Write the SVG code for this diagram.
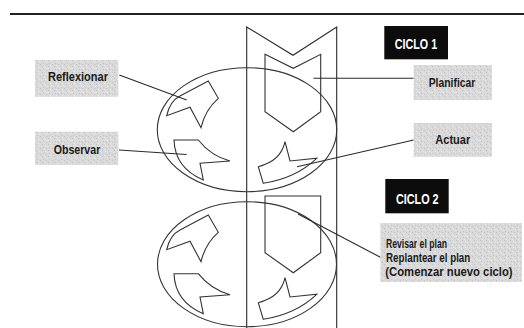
<svg xmlns="http://www.w3.org/2000/svg" width="524" height="328" viewBox="0 0 524 328">
<defs>
<pattern id="grain" width="6" height="6" patternUnits="userSpaceOnUse">
<rect width="6" height="6" fill="#d9d9d9"/>
<rect x="0" y="0" width="1" height="1" fill="#c0c0c0"/>
<rect x="3" y="1" width="1" height="1" fill="#e8e8e8"/>
<rect x="1" y="3" width="1" height="1" fill="#c6c6c6"/>
<rect x="4" y="4" width="1" height="1" fill="#c3c3c3"/>
<rect x="5" y="2" width="1" height="1" fill="#e6e6e6"/>
<rect x="2" y="5" width="1" height="1" fill="#e8e8e8"/>
</pattern>
<style>
.ln{fill:none;stroke:#2a2a2a;stroke-width:1.1;stroke-linejoin:miter}
.sh{fill:none;stroke:#333;stroke-width:1.1;stroke-linejoin:miter}
.lbl{fill:url(#grain)}
.blk{fill:#0c0c0c}
.t{font-family:"Liberation Sans",Arial,sans-serif;font-weight:bold;font-size:13.5px;fill:#1a1a1a}
.ts{font-family:"Liberation Sans",Arial,sans-serif;font-weight:bold;font-size:12px;fill:#1a1a1a}
.tw{font-family:"Liberation Sans",Arial,sans-serif;font-weight:bold;font-size:14px;fill:#ffffff}
</style>
</defs>
<rect width="524" height="328" fill="#ffffff"/>
<line x1="10" y1="14" x2="524" y2="14" stroke="#222" stroke-width="2"/>

<g id="column">
<path class="ln" d="M246.7,328 L246.7,27 L293,55.3 L336.7,27 L336.7,328"/>
</g>

<g id="ellipse1">
<ellipse class="sh" cx="247" cy="129.7" rx="89.7" ry="62"/>
</g>
<g id="ellipse2">
<ellipse class="sh" cx="247" cy="264.2" rx="89.5" ry="62.5"/>
</g>

<g id="reflexionar-shape-1">
<path class="sh" d="M166.7,115.7 Q170,101 180,96 L208.3,81 L218.3,98.3 Q205,110 201,127.7 L190,107.3 Z"/>
</g>
<g id="observar-shape-1">
<path class="sh" d="M174,140 L198.3,140 Q211,156 230,161 L200,163.3 L203.3,180 Q175,168 174,140 Z"/>
</g>
<g id="planificar-shape-1">
<path class="sh" d="M265,54.3 L293.3,68.3 L320.7,54.3 L320.7,111.7 L293.3,131.7 L265,111.7 Z"/>
</g>
<g id="actuar-shape-1">
<path class="sh" d="M258.3,166.7 Q281,161 285,141.7 L290,161 L316.7,158.3 Q296,178 263.3,183.3 Z"/>
</g>

<g id="reflexionar-shape-2">
<path class="sh" d="M166.7,249.7 Q170,235 180,230 L208.3,215 L218.3,232.3 Q205,244 201,261.7 L190,241.3 Z"/>
</g>
<g id="observar-shape-2">
<path class="sh" d="M174,273.7 L198.3,273.7 Q211,289.7 230,294.7 L200,297 L203.3,313.7 Q175,301.7 174,273.7 Z"/>
</g>
<g id="planificar-shape-2">
<path class="sh" d="M265,196 L320.7,196 L320.7,252.7 L293.3,272.7 L265,252.7 Z"/>
</g>
<g id="actuar-shape-2">
<path class="sh" d="M258.3,302.7 Q281,297 285,277.7 L290,297 L316.7,294.3 Q296,314 263.3,319.3 Z"/>
</g>

<g id="connectors">
<line class="ln" x1="119.3" y1="75" x2="186.7" y2="100"/>
<line class="ln" x1="119" y1="150" x2="186.7" y2="154.5"/>
<line class="ln" x1="313.5" y1="78.3" x2="413.7" y2="78.3"/>
<line class="ln" x1="413.7" y1="140" x2="297" y2="166.7"/>
<line class="ln" x1="383.7" y1="259" x2="298" y2="214"/>
</g>

<g id="reflexionar">
<rect class="lbl" x="35" y="60" width="83.3" height="36.7"/>
<text class="t" x="78" y="80.5" text-anchor="middle" textLength="60" lengthAdjust="spacingAndGlyphs">Reflexionar</text>
</g>
<g id="observar">
<rect class="lbl" x="35" y="131.7" width="83.3" height="33.3"/>
<text class="t" x="77" y="153.5" text-anchor="middle" textLength="46.7" lengthAdjust="spacingAndGlyphs">Observar</text>
</g>
<g id="ciclo1">
<rect class="blk" x="384.3" y="26" width="63.7" height="33.3"/>
<text class="tw" x="416" y="48.5" text-anchor="middle" textLength="42.3" lengthAdjust="spacingAndGlyphs">CICLO 1</text>
</g>
<g id="planificar">
<rect class="lbl" x="413.7" y="65" width="78.3" height="35"/>
<text class="t" x="452" y="87" text-anchor="middle" textLength="46.7" lengthAdjust="spacingAndGlyphs">Planificar</text>
</g>
<g id="actuar">
<rect class="lbl" x="413.7" y="123" width="78.3" height="33.7"/>
<text class="t" x="452.8" y="144.3" text-anchor="middle" textLength="35" lengthAdjust="spacingAndGlyphs">Actuar</text>
</g>
<g id="ciclo2">
<rect class="blk" x="385.3" y="179" width="63.4" height="34.3"/>
<text class="tw" x="417.3" y="203.5" text-anchor="middle" textLength="42.7" lengthAdjust="spacingAndGlyphs">CICLO 2</text>
</g>
<g id="revisar">
<rect class="lbl" x="380.3" y="223" width="141.7" height="59"/>
<text class="ts" x="386" y="248" textLength="61" lengthAdjust="spacingAndGlyphs">Revisar el plan</text>
<text class="ts" x="386" y="262" textLength="84.3" lengthAdjust="spacingAndGlyphs">Replantear el plan</text>
<text class="ts" x="385.3" y="276" textLength="127.3" lengthAdjust="spacingAndGlyphs">(Comenzar nuevo ciclo)</text>
</g>
</svg>
